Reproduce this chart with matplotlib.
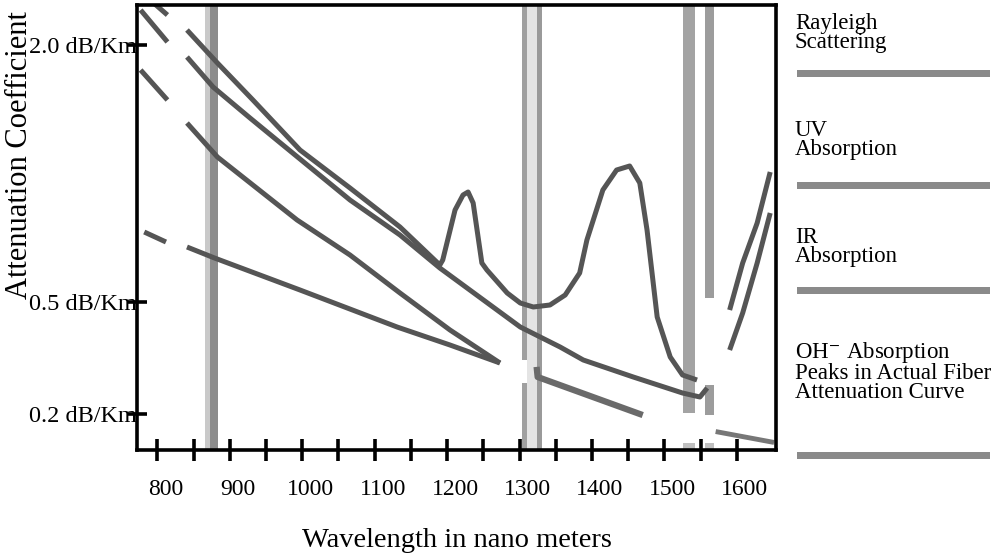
import matplotlib
matplotlib.use('Agg')

import matplotlib.pyplot as plt
from matplotlib.patches import Rectangle
from matplotlib.transforms import ScaledTranslation

plt.rcParams['font.family'] = ['Liberation Serif', 'DejaVu Serif']
plt.rcParams['mathtext.fontset'] = 'stix'

# wavelength (nm) and relative height on the schematic attenuation axis
# the axis is not linear in dB/Km, so curves are kept in chart height units
fiber_stub_x = [795, 814]
fiber_stub_y = [447, 435]
fiber_x = [841, 883, 932, 997, 1066, 1135, 1190, 1194, 1211, 1222, 1229, 1236,
           1248, 1255, 1283, 1301, 1319, 1342, 1363, 1383, 1393, 1415, 1434,
           1452, 1466, 1476, 1490, 1508, 1525, 1545]
fiber_y = [420, 387, 350, 300, 262, 223, 185, 190, 240, 255, 258, 247,
           187, 180, 157, 147, 143, 145, 155, 177, 210, 260, 280,
           284, 267, 220, 133, 93, 75, 70]

total_stub_x = [777, 814]
total_stub_y = [440, 408]
total_x = [841, 877, 928, 970, 1066, 1135, 1190, 1301, 1356, 1388, 1457, 1525, 1549, 1559]
total_y = [393, 363, 332, 307, 250, 215, 182, 123, 103, 90, 73, 57, 53, 62]

uv_stub_x = [777, 814]
uv_stub_y = [380, 350]
uv_x = [841, 883, 993, 1066, 1135, 1204, 1273]
uv_y = [327, 293, 230, 195, 157, 120, 87]

ray_stub_x = [782, 812]
ray_stub_y = [218, 208]
ray_x = [841, 879, 997, 1131, 1204, 1273]
ray_y = [203, 192, 160, 123, 105, 87]

seg1_x = [1324, 1325, 1466]
seg1_y = [80, 73, 36]
seg2_x = [1574, 1648]
seg2_y = [18, 8]
ir_a_x = [1590, 1608, 1628, 1646]
ir_a_y = [140, 187, 227, 278]
ir_b_x = [1590, 1608, 1628, 1646]
ir_b_y = [100, 137, 187, 237]

# transmission windows (nm) drawn as vertical bands
band_x0 = [866, 873, 1303, 1303, 1310, 1324, 1525, 1525, 1556, 1556, 1556]
band_x1 = [873, 884, 1310, 1310, 1324, 1331, 1542, 1542, 1568, 1568, 1568]
band_y0 = [0, 0, 0, 90, 0, 0, 37, 0, 152, 35, 0]
band_y1 = [445, 445, 67, 445, 445, 445, 445, 7, 445, 65, 7]
band_col = ['#c9c9c9', '#8c8c8c', '#a0a0a0', '#a0a0a0', '#e4e4e4', '#9a9a9a',
            '#a3a3a3', '#c0c0c0', '#9c9c9c', '#9c9c9c', '#c0c0c0']

x_major = [800, 900, 1000, 1100, 1200, 1300, 1400, 1500, 1600]
x_minor = [850, 950, 1050, 1150, 1250, 1350, 1450, 1550]
y_ticks = [405, 148, 36]
y_labels = ['2.0 dB/Km', '0.5 dB/Km', '0.2 dB/Km']

legend_text = ['Rayleigh\nScattering', 'UV\nAbsorption', 'IR\nAbsorption',
               'OH$^{-}$ Absorption\nPeaks in Actual Fiber\nAttenuation Curve']
legend_text_y = [13, 120, 227, 340]
legend_bar_y = [70, 182, 287, 452]

fig = plt.figure(figsize=(10.02, 5.58), dpi=100)
ax = fig.add_axes([137 / 1002, 108 / 558, 639 / 1002, 445 / 558])
ax.set_xlim(772, 1654)
ax.set_ylim(0, 445)

for x0, x1, y0, y1, c in zip(band_x0, band_x1, band_y0, band_y1, band_col):
    ax.fill_between([x0, x1], y0, y1, color=c, lw=0, zorder=1)

line_kw = dict(color='#555555', lw=3.6, solid_capstyle='butt', zorder=3)
for xs, ys in [(fiber_stub_x, fiber_stub_y), (fiber_x, fiber_y),
               (total_stub_x, total_stub_y), (total_x, total_y),
               (uv_stub_x, uv_stub_y), (uv_x, uv_y),
               (ray_stub_x, ray_stub_y), (ray_x, ray_y),
               (ir_a_x, ir_a_y), (ir_b_x, ir_b_y)]:
    ax.plot(xs, ys, **line_kw)
ax.plot(seg1_x, seg1_y, color='#6a6a6a', lw=4.5, zorder=3)
ax.plot(seg2_x, seg2_y, color='#777777', lw=3.5, zorder=3)

for s in ax.spines.values():
    s.set_linewidth(2.6)
    s.set_color('black')
    s.set_zorder(5)

ax.set_xticks(x_major)
ax.set_xticks(x_minor, minor=True)
ax.set_xticklabels([str(v) for v in x_major], fontsize=17)
ax.tick_params(axis='x', which='both', direction='inout', length=16, width=2.6,
               pad=13, color='black')
shift = ScaledTranslation(8 / 100, 0, fig.dpi_scale_trans)
for lab in ax.get_xticklabels():
    lab.set_transform(lab.get_transform() + shift)

ax.set_yticks(y_ticks)
ax.set_yticklabels(y_labels, fontsize=17.5)
ax.tick_params(axis='y', direction='inout', length=14, width=2.6, pad=-7)

ax.set_xlabel('Wavelength in nano meters', fontsize=20.5, labelpad=20)
fig.text(20 / 1002, 1 - 155 / 558, 'Attenuation Coefficient', fontsize=22,
         rotation=90, ha='center', va='center')

for txt, ty in zip(legend_text, legend_text_y):
    fig.text(795 / 1002, 1 - ty / 558, txt, fontsize=16.5, va='top', ha='left',
             linespacing=0.88)
for by in legend_bar_y:
    fig.add_artist(Rectangle((797 / 1002, 1 - (by + 7) / 558), 193 / 1002, 7 / 558,
                             transform=fig.transFigure, color='#8a8a8a', lw=0))

fig.savefig('out.png', dpi=100)
